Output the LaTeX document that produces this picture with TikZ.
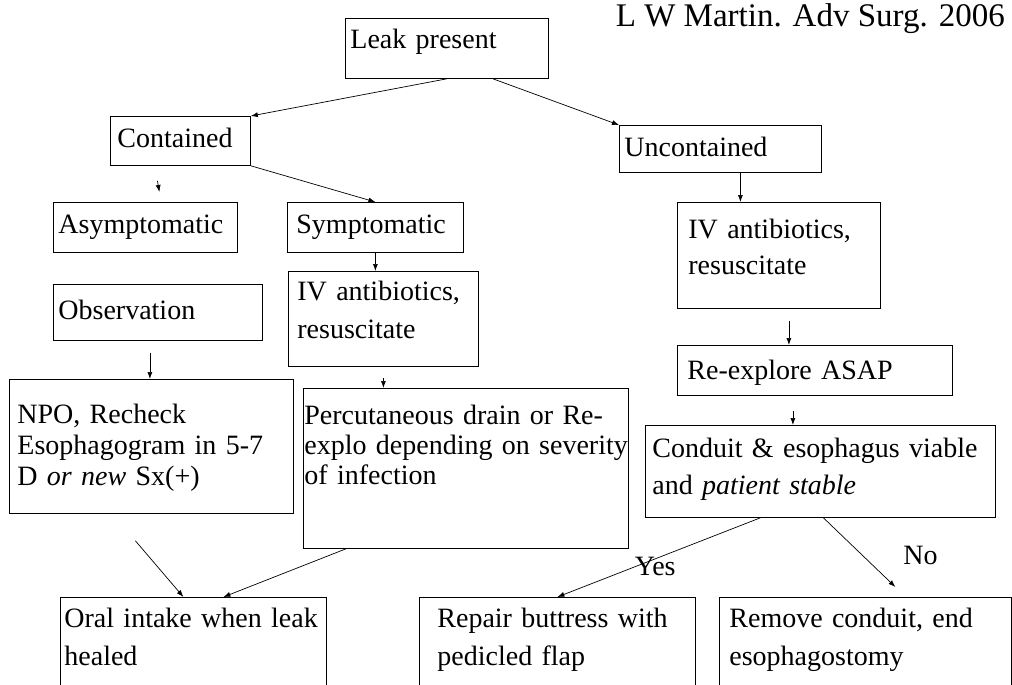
\documentclass[tikz,border=0pt]{standalone}
\usepackage{fontspec}
\setmainfont{Liberation Serif}
\usetikzlibrary{arrows.meta}

\begin{document}
\begin{tikzpicture}[
  x=1pt, y=-1pt,
  every node/.style={font=\fontsize{28}{33}\selectfont},
  box/.style={draw, line width=0.8pt, anchor=north west, align=left, inner ysep=0pt, inner xsep=#1},
  box/.default=9pt,
  lsp/.style={font=\fontsize{28}{#1}\selectfont},
  arr/.style={-{Latex[length=7pt,width=5pt]}, line width=0.7pt}
]
\clip (0,0) rectangle (1012,685);
\fill[white] (0,0) rectangle (1012,685);

\node[anchor=base east, inner sep=0pt, font=\fontsize{33}{40}\selectfont] (cite) at (1005,27) {L W Martin. Adv Surg. 2006};

% top levels
\node[box=5pt, text width=193pt, text height=30pt, text depth=30pt] (leak) at (345,18) {Leak present};
\node[box=7pt, text width=126pt, text height=31pt, text depth=18pt] (cont) at (110,116) {Contained};
\node[box=5pt, text width=192pt, text height=31pt, text depth=16pt] (uncont) at (619,125) {Uncontained};

% contained branch
\node[box=5pt, text width=174pt, text height=31pt, text depth=19pt] (asym) at (53,202) {Asymptomatic};
\node[box=9pt, text width=158pt, text height=31pt, text depth=19pt] (sym) at (287,202) {Symptomatic};
\node[box=5pt, text width=199pt, text height=35pt, text depth=21pt] (obs) at (53,284) {Observation};
\node[box, lsp=38, text width=172pt, text height=29pt, text depth=66pt] (ivl) at (288,271) {IV antibiotics,\\ resuscitate};
\node[box=8pt, lsp=31, text width=268pt, text height=44pt, text depth=90pt] (npo) at (9,379)
  {NPO, Recheck\\ Esophagogram in 5-7\\ D \textit{or new} Sx(+)};
\node[box=1pt, lsp=30, text width=323pt, text height=36pt, text depth=124pt] (perc) at (303,388)
  {\mbox{Percutaneous drain or Re-}\\ \mbox{explo depending on severity}\\ of infection};

% uncontained branch
\node[box=11pt, lsp=36, text width=181pt, text height=36pt, text depth=70pt] (ivr) at (677,202) {IV antibiotics,\\ resuscitate};
\node[box=10pt, text width=255pt, text height=34pt, text depth=16pt] (rex) at (677,345) {Re-explore ASAP};
\node[box=7pt, lsp=37, text width=336pt, text height=32pt, text depth=60pt] (cond) at (645,425)
  {Conduit \& esophagus viable\\ and \textit{patient stable}};

% outcomes
\node[box=4pt, lsp=38, text width=258pt, text height=30pt, text depth=73pt] (oral) at (60,597) {Oral intake when leak\\ healed};
\node[box=18pt, lsp=38, text width=240pt, text height=30pt, text depth=73pt] (rep) at (419,597) {Repair buttress with\\ pedicled flap};
\node[box=10pt, lsp=38, text width=272pt, text height=30pt, text depth=73pt] (rem) at (719,597) {Remove conduit, end\\ esophagostomy};

\draw[arr] (leak.south) -- (cont.north east);
\draw[arr] ([xshift=46pt]leak.south) -- (uncont.north west);
\draw[arr] ([xshift=-23pt,yshift=-15pt]cont.south) -- ([xshift=14pt,yshift=10pt]asym.north);
\draw[arr] (cont.south east) -- (sym.north);
\draw[arr] (sym.south) -- (sym.south |- ivl.north);
\draw[arr] ([xshift=-8pt,yshift=-12pt]obs.south) -- ([xshift=-8pt]obs.south |- npo.north);
\draw[arr] ([yshift=-11pt]ivl.south) -- (ivl.south |- perc.north);
\draw[arr] ([xshift=20pt]uncont.south) -- ([xshift=20pt]uncont.south |- ivr.north);
\draw[arr] ([xshift=10pt,yshift=-12pt]ivr.south) -- ([xshift=10pt]ivr.south |- rex.north);
\draw[arr] ([xshift=-22pt,yshift=-15pt]rex.south) -- ([xshift=-22pt]rex.south |- cond.north);
\draw[arr] ([xshift=-16pt,yshift=-27pt]npo.south) -- ([xshift=-10pt]oral.north);
\draw[arr] ([xshift=43pt]perc.south west) -- ([xshift=30pt]oral.north);
\draw[arr] ([xshift=-60pt]cond.south) -- node[pos=0.62, anchor=west, inner sep=0pt] (yes) {Yes} (rep.north);
\draw[arr] ([xshift=3pt]cond.south) -- node[pos=0.55, anchor=west, xshift=40pt, inner sep=0pt] (no) {No} ([xshift=30pt,yshift=10pt]rem.north);
\end{tikzpicture}
\end{document}
